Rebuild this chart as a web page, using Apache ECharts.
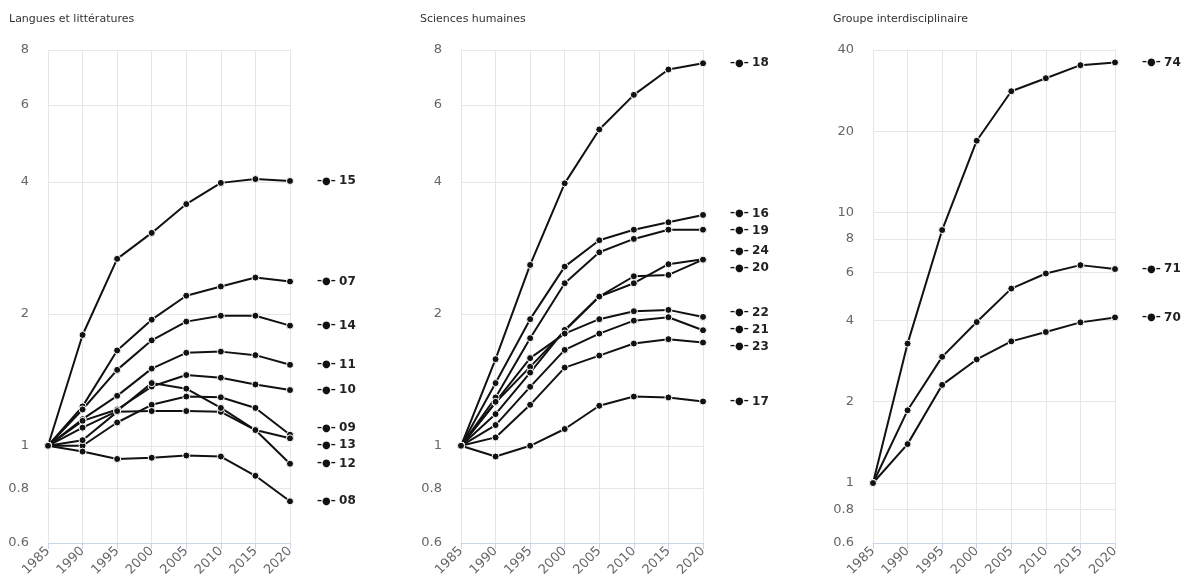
<!DOCTYPE html>
<html>
<head>
<meta charset="utf-8">
<script src="https://cdn.jsdelivr.net/npm/echarts@6/dist/echarts.min.js"></script>
<style>
html,body{margin:0;padding:0;background:#fff}
#wrap{position:relative;width:1185px;height:586px;background:#fff}
.pc{position:absolute;left:0;top:0;width:1185px;height:586px}
</style>
</head>
<body>
<div id="wrap"><div class="pc" id="c0"></div><div class="pc" id="c1"></div><div class="pc" id="c2"></div></div>
<script>
// ---- data ----
const years = ['1985','1990','1995','2000','2005','2010','2015','2020'];
const panelTitles = ['Langues et littératures', 'Sciences humaines', 'Groupe interdisciplinaire'];
const ticksLow = [0.6, 0.8, 1, 2, 4, 6, 8];
const ticksHigh = [0.6, 0.8, 1, 2, 4, 6, 8, 10, 20, 40];

// Panel 1 : Langues et littératures
const p1Names = ['15', '07', '14', '11', '10', '09', '13', '12', '08'];
const s15 = [1, 1.79, 2.67, 3.06, 3.56, 3.98, 4.06, 4.02];
const s07 = [1, 1.23, 1.65, 1.94, 2.20, 2.31, 2.42, 2.37];
const s14 = [1, 1.21, 1.49, 1.74, 1.92, 1.98, 1.98, 1.88];
const s11 = [1, 1.15, 1.30, 1.50, 1.63, 1.64, 1.61, 1.53];
const s10 = [1, 1.14, 1.21, 1.365, 1.45, 1.43, 1.38, 1.34];
const s09 = [1, 1.00, 1.13, 1.24, 1.295, 1.29, 1.22, 1.06];
const s13 = [1, 1.03, 1.195, 1.20, 1.20, 1.195, 1.086, 1.04];
const s12 = [1, 1.10, 1.20, 1.39, 1.35, 1.22, 1.086, 0.91];
const s08 = [1, 0.97, 0.933, 0.939, 0.95, 0.945, 0.854, 0.747];

// Panel 2 : Sciences humaines
const p2Names = ['18', '16', '19', '24', '20', '22', '21', '23', '17'];
const s18 = [1, 1.576, 2.586, 3.97, 5.27, 6.32, 7.22, 7.46];
const s16 = [1, 1.39, 1.945, 2.563, 2.944, 3.112, 3.236, 3.363];
const s19 = [1, 1.289, 1.76, 2.349, 2.764, 2.965, 3.112, 3.112];
const s24 = [1, 1.255, 1.514, 1.829, 2.19, 2.349, 2.596, 2.665];
const s20 = [1, 1.181, 1.469, 1.838, 2.19, 2.437, 2.454, 2.659];
const s22 = [1, 1.26, 1.585, 1.803, 1.945, 2.028, 2.042, 1.968];
const s21 = [1, 1.115, 1.363, 1.655, 1.803, 1.93, 1.965, 1.835];
const s23 = [1, 1.045, 1.24, 1.508, 1.606, 1.711, 1.751, 1.72];
const s17 = [1, 0.945, 1.0, 1.092, 1.234, 1.295, 1.289, 1.262];

// Panel 3 : Groupe interdisciplinaire
const p3Names = ['74', '71', '70'];
const s74 = [1, 3.28, 8.63, 18.47, 28.15, 31.46, 35.15, 35.98];
const s71 = [1, 1.858, 2.93, 3.94, 5.24, 5.96, 6.40, 6.19];
const s70 = [1, 1.393, 2.307, 2.866, 3.343, 3.62, 3.93, 4.10];

const panels = [
  { names: p1Names, data: [s15, s07, s14, s11, s10, s09, s13, s12, s08], ticks: ticksLow, max: 8 },
  { names: p2Names, data: [s18, s16, s19, s24, s20, s22, s21, s23, s17], ticks: ticksLow, max: 8 },
  { names: p3Names, data: [s74, s71, s70], ticks: ticksHigh, max: 40 }
];

// ---- layout ----
const gridLefts = [48, 461, 873];
const titleLefts = [9, 420, 833];
const FONT = 'DejaVu Sans';
const LABEL_H = 17; // vertical room taken by one end label

// Balanced spreading of end labels so they don't overlap (clusters centred on their targets)
function spread(targets, h) {
  const items = targets.map((t, i) => ({ i, t })).sort((a, b) => a.t - b.t);
  let clusters = items.map(it => ({ members: [it], pos: it.t }));
  let merged = true;
  while (merged) {
    merged = false;
    for (let k = 0; k < clusters.length - 1; k++) {
      const a = clusters[k], b = clusters[k + 1];
      if (a.pos + a.members.length * h > b.pos) {
        const members = a.members.concat(b.members);
        let sum = 0;
        members.forEach((m, j) => { sum += m.t - j * h; });
        clusters.splice(k, 2, { members, pos: sum / members.length });
        merged = true;
        break;
      }
    }
  }
  const out = new Array(targets.length);
  clusters.forEach(c => c.members.forEach((m, j) => { out[m.i] = c.pos + j * h; }));
  return out;
}

panels.forEach((p, gi) => {
  const series = p.names.map((name, k) => ({
    type: 'line', name: name,
    data: p.data[k],
    symbol: 'circle', symbolSize: 7, showSymbol: true,
    lineStyle: { color: '#111111', width: 2 },
    itemStyle: { color: '#111111', borderColor: '#ffffff', borderWidth: 1 },
    emphasis: { disabled: true },
    endLabel: {
      show: true, distance: 27,
      formatter: '{s|–●–} {n|' + name + '}',
      rich: {
        s: { fontFamily: FONT, fontSize: 10, fontWeight: 'bold', color: '#111111' },
        n: { fontFamily: FONT, fontSize: 12, fontWeight: 'bold', color: '#222222' }
      }
    }
  }));
  const option = {
    animation: false,
    backgroundColor: 'transparent',
    title: {
      text: panelTitles[gi], left: titleLefts[gi], top: 14, padding: 0,
      textStyle: { fontFamily: FONT, fontSize: 11, fontWeight: 'normal', color: '#333333' }
    },
    grid: { left: gridLefts[gi], top: 50, width: 242, height: 493, containLabel: false },
    xAxis: {
      type: 'category', data: years, boundaryGap: false,
      axisLine: { show: true, lineStyle: { color: '#ccd6eb', width: 1 } },
      axisTick: { show: true, length: 6, lineStyle: { color: '#ccd6eb' } },
      axisLabel: { rotate: 45, fontFamily: FONT, fontSize: 13, color: '#666666', margin: 6, interval: 0 },
      splitLine: { show: true, lineStyle: { color: '#e6e6e6', width: 1 } }
    },
    yAxis: {
      type: 'log', logBase: 10, min: 0.6, max: p.max,
      axisLine: { show: false },
      axisTick: { show: false, customValues: p.ticks },
      axisLabel: { customValues: p.ticks, fontFamily: FONT, fontSize: 13, color: '#666666', margin: 19 },
      splitLine: { show: true, lineStyle: { color: '#e6e6e6', width: 1 } },
      minorTick: { show: false }, minorSplitLine: { show: false }
    },
    series: series
  };
  const chart = echarts.init(document.getElementById('c' + gi), null, { renderer: 'canvas' });
  chart.setOption(option);

  // end-point pixel positions from the chart's own scales, then spread labels
  const last = years.length - 1;
  const targets = p.data.map(d => chart.convertToPixel({ gridIndex: 0 }, [last, d[last]])[1]);
  const placed = spread(targets, LABEL_H);
  chart.setOption({
    series: p.names.map((name, k) => ({ labelLayout: { dy: placed[k] - targets[k] } }))
  });
});
</script>
</body>
</html>
